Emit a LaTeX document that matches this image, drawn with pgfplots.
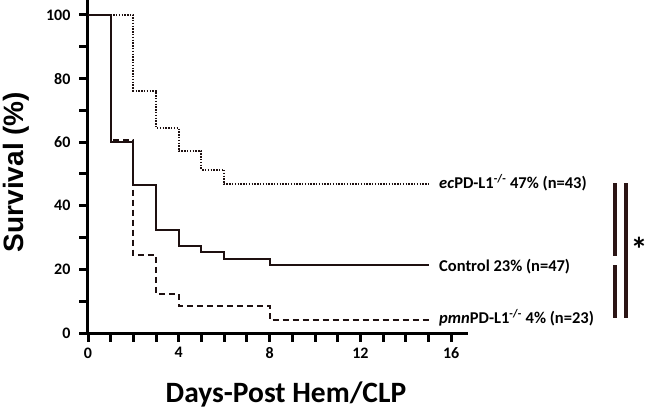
\documentclass[border=0pt]{standalone}
\usepackage{pgfplots}
\pgfplotsset{compat=1.18}
\usepackage{fontspec}
\setmainfont{Carlito}
\newfontfamily\arialbf{Liberation Sans}
\definecolor{ink}{HTML}{1E1010}
\definecolor{barc}{HTML}{2B1515}
\begin{document}
\begin{tikzpicture}
\useasboundingbox (0pt,0pt) rectangle (649pt,408pt);
\begin{axis}[
  at={(88pt,75pt)}, anchor=south west,
  width=380pt, height=333pt, scale only axis,
  xmin=0, xmax=16.74, ymin=0, ymax=104.7,
  axis x line=bottom, axis y line=left,
  x axis line style={-, line width=3pt, black},
  y axis line style={-, line width=3pt, black},
  xtick={0,4,8,12,16}, minor xtick={1,2,3,5,6,7,9,10,11,13,14,15},
  ytick={0,20,40,60,80,100}, minor ytick={10,30,50,70,90},
  xtick align=outside, ytick align=outside,
  major tick length=8pt, minor tick length=8pt,
  every major tick/.append style={draw=black, line width=2.8pt},
  every minor tick/.append style={draw=black, line width=2.8pt},
  tick label style={font=\bfseries\fontsize{16}{16}\selectfont},
  xticklabel style={yshift=-3pt},
  yticklabel style={xshift=-6pt},
  /pgf/number format/assume math mode=true,
  clip=false,
]
\addplot[const plot, ink, line width=2pt] coordinates {
  (0,100) (1,60) (2,46.5) (3,32.4) (4,27.2) (5,25.4) (6,23.4) (8,21.5) (15,21.5)};
\addplot[const plot, ink, line width=2pt, dash pattern=on 6pt off 4pt] coordinates {
  (0,100) (1,60.8) (2,24.5) (3,12.4) (4,8.6) (8,4) (15,4)};
\addplot[const plot, ink, line width=2pt, dash pattern=on 1.4pt off 1.4pt] coordinates {
  (0,100) (2,76.2) (3,64.5) (4,57.2) (5,51.4) (6,46.7) (15,46.7)};
\end{axis}
\begin{scope}[x=1pt,y=1pt]
\foreach \i in {0,...,16} {\draw[black, line width=3pt, line cap=butt] ({88+22.7*\i},75) -- ({88+22.7*\i},66);}
\foreach \j in {0,...,10} {\draw[black, line width=3pt, line cap=butt] (88,{75+31.805*\j}) -- (79,{75+31.805*\j});}
\begin{scope}[every node/.style={anchor=west, font=\bfseries\fontsize{16.5}{16.5}\selectfont, inner sep=0pt}]
\node at (439,225) {\textit{ec}PD-L1\textsuperscript{-/-} 47\% (n=43)};
\node at (439,141) {Control 23\% (n=47)};
\node at (439,90) {\textit{pmn}PD-L1\textsuperscript{-/-} 4\% (n=23)};
\end{scope}
\draw[barc, line width=4pt] (615,225) -- (615,152);
\draw[barc, line width=4pt] (615,143) -- (615,90);
\draw[barc, line width=4pt] (626,225) -- (626,90);
\node[font=\bfseries\fontsize{34}{34}\selectfont, inner sep=0pt] at (639,159) {*};
\node[rotate=90, anchor=base, font=\arialbf\bfseries\fontsize{28}{28}\selectfont, inner sep=0pt] at (23,236) {Survival (\%)};
\node[anchor=base, font=\bfseries\fontsize{29.5}{29.5}\selectfont, inner sep=0pt] at (286,6) {Days-Post Hem/CLP};
\end{scope}
\end{tikzpicture}
\end{document}
